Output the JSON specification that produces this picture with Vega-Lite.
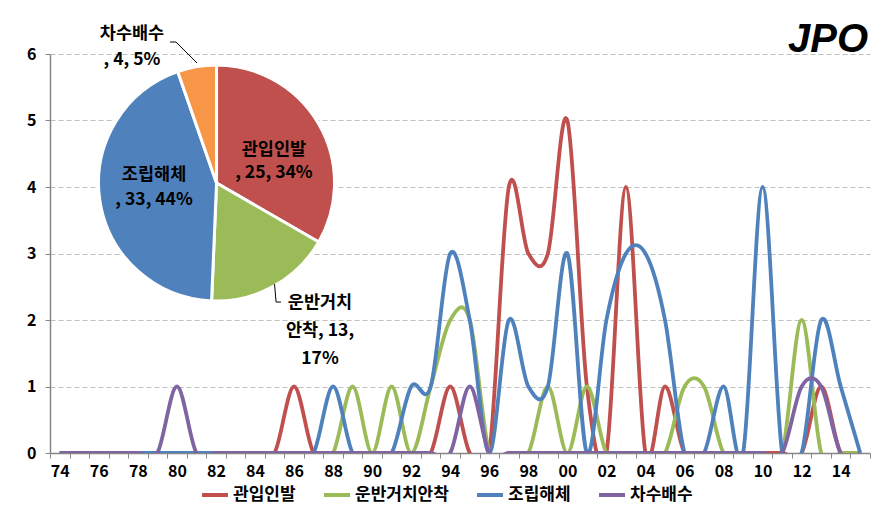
{
  "$schema": "https://vega.github.io/schema/vega-lite/v6.json",
  "width": 820,
  "height": 399,
  "autosize": {"type": "none"},
  "padding": {"left": 50, "top": 54, "right": 16, "bottom": 71},
  "background": "white",
  "config": {"view": {"stroke": null}, "font": "Noto Sans CJK KR"},
  "datasets": {
    "lines": [
      {"year":1974,"type":"관입인발","count":0},{"year":1975,"type":"관입인발","count":0},{"year":1976,"type":"관입인발","count":0},{"year":1977,"type":"관입인발","count":0},{"year":1978,"type":"관입인발","count":0},{"year":1979,"type":"관입인발","count":0},{"year":1980,"type":"관입인발","count":0},{"year":1981,"type":"관입인발","count":0},{"year":1982,"type":"관입인발","count":0},{"year":1983,"type":"관입인발","count":0},{"year":1984,"type":"관입인발","count":0},{"year":1985,"type":"관입인발","count":0},{"year":1986,"type":"관입인발","count":1},{"year":1987,"type":"관입인발","count":0},{"year":1988,"type":"관입인발","count":0},{"year":1989,"type":"관입인발","count":0},{"year":1990,"type":"관입인발","count":0},{"year":1991,"type":"관입인발","count":0},{"year":1992,"type":"관입인발","count":0},{"year":1993,"type":"관입인발","count":0},{"year":1994,"type":"관입인발","count":1},{"year":1995,"type":"관입인발","count":0},{"year":1996,"type":"관입인발","count":0},{"year":1997,"type":"관입인발","count":4},{"year":1998,"type":"관입인발","count":3},{"year":1999,"type":"관입인발","count":3},{"year":2000,"type":"관입인발","count":5},{"year":2001,"type":"관입인발","count":1},{"year":2002,"type":"관입인발","count":0},{"year":2003,"type":"관입인발","count":4},{"year":2004,"type":"관입인발","count":0},{"year":2005,"type":"관입인발","count":1},{"year":2006,"type":"관입인발","count":0},{"year":2007,"type":"관입인발","count":0},{"year":2008,"type":"관입인발","count":0},{"year":2009,"type":"관입인발","count":0},{"year":2010,"type":"관입인발","count":0},{"year":2011,"type":"관입인발","count":0},{"year":2012,"type":"관입인발","count":0},{"year":2013,"type":"관입인발","count":1},{"year":2014,"type":"관입인발","count":0},{"year":2015,"type":"관입인발","count":0},
      {"year":1974,"type":"운반거치안착","count":0},{"year":1975,"type":"운반거치안착","count":0},{"year":1976,"type":"운반거치안착","count":0},{"year":1977,"type":"운반거치안착","count":0},{"year":1978,"type":"운반거치안착","count":0},{"year":1979,"type":"운반거치안착","count":0},{"year":1980,"type":"운반거치안착","count":0},{"year":1981,"type":"운반거치안착","count":0},{"year":1982,"type":"운반거치안착","count":0},{"year":1983,"type":"운반거치안착","count":0},{"year":1984,"type":"운반거치안착","count":0},{"year":1985,"type":"운반거치안착","count":0},{"year":1986,"type":"운반거치안착","count":0},{"year":1987,"type":"운반거치안착","count":0},{"year":1988,"type":"운반거치안착","count":0},{"year":1989,"type":"운반거치안착","count":1},{"year":1990,"type":"운반거치안착","count":0},{"year":1991,"type":"운반거치안착","count":1},{"year":1992,"type":"운반거치안착","count":0},{"year":1993,"type":"운반거치안착","count":1},{"year":1994,"type":"운반거치안착","count":2},{"year":1995,"type":"운반거치안착","count":2},{"year":1996,"type":"운반거치안착","count":0},{"year":1997,"type":"운반거치안착","count":0},{"year":1998,"type":"운반거치안착","count":0},{"year":1999,"type":"운반거치안착","count":1},{"year":2000,"type":"운반거치안착","count":0},{"year":2001,"type":"운반거치안착","count":1},{"year":2002,"type":"운반거치안착","count":0},{"year":2003,"type":"운반거치안착","count":0},{"year":2004,"type":"운반거치안착","count":0},{"year":2005,"type":"운반거치안착","count":0},{"year":2006,"type":"운반거치안착","count":1},{"year":2007,"type":"운반거치안착","count":1},{"year":2008,"type":"운반거치안착","count":0},{"year":2009,"type":"운반거치안착","count":0},{"year":2010,"type":"운반거치안착","count":0},{"year":2011,"type":"운반거치안착","count":0},{"year":2012,"type":"운반거치안착","count":2},{"year":2013,"type":"운반거치안착","count":0},{"year":2014,"type":"운반거치안착","count":0},{"year":2015,"type":"운반거치안착","count":0},
      {"year":1974,"type":"조립해체","count":0},{"year":1975,"type":"조립해체","count":0},{"year":1976,"type":"조립해체","count":0},{"year":1977,"type":"조립해체","count":0},{"year":1978,"type":"조립해체","count":0},{"year":1979,"type":"조립해체","count":0},{"year":1980,"type":"조립해체","count":0},{"year":1981,"type":"조립해체","count":0},{"year":1982,"type":"조립해체","count":0},{"year":1983,"type":"조립해체","count":0},{"year":1984,"type":"조립해체","count":0},{"year":1985,"type":"조립해체","count":0},{"year":1986,"type":"조립해체","count":0},{"year":1987,"type":"조립해체","count":0},{"year":1988,"type":"조립해체","count":1},{"year":1989,"type":"조립해체","count":0},{"year":1990,"type":"조립해체","count":0},{"year":1991,"type":"조립해체","count":0},{"year":1992,"type":"조립해체","count":1},{"year":1993,"type":"조립해체","count":1},{"year":1994,"type":"조립해체","count":3},{"year":1995,"type":"조립해체","count":2},{"year":1996,"type":"조립해체","count":0},{"year":1997,"type":"조립해체","count":2},{"year":1998,"type":"조립해체","count":1},{"year":1999,"type":"조립해체","count":1},{"year":2000,"type":"조립해체","count":3},{"year":2001,"type":"조립해체","count":0},{"year":2002,"type":"조립해체","count":2},{"year":2003,"type":"조립해체","count":3},{"year":2004,"type":"조립해체","count":3},{"year":2005,"type":"조립해체","count":2},{"year":2006,"type":"조립해체","count":0},{"year":2007,"type":"조립해체","count":0},{"year":2008,"type":"조립해체","count":1},{"year":2009,"type":"조립해체","count":0},{"year":2010,"type":"조립해체","count":4},{"year":2011,"type":"조립해체","count":0},{"year":2012,"type":"조립해체","count":0},{"year":2013,"type":"조립해체","count":2},{"year":2014,"type":"조립해체","count":1},{"year":2015,"type":"조립해체","count":0},
      {"year":1974,"type":"차수배수","count":0},{"year":1975,"type":"차수배수","count":0},{"year":1976,"type":"차수배수","count":0},{"year":1977,"type":"차수배수","count":0},{"year":1978,"type":"차수배수","count":0},{"year":1979,"type":"차수배수","count":0},{"year":1980,"type":"차수배수","count":1},{"year":1981,"type":"차수배수","count":0},{"year":1982,"type":"차수배수","count":0},{"year":1983,"type":"차수배수","count":0},{"year":1984,"type":"차수배수","count":0},{"year":1985,"type":"차수배수","count":0},{"year":1986,"type":"차수배수","count":0},{"year":1987,"type":"차수배수","count":0},{"year":1988,"type":"차수배수","count":0},{"year":1989,"type":"차수배수","count":0},{"year":1990,"type":"차수배수","count":0},{"year":1991,"type":"차수배수","count":0},{"year":1992,"type":"차수배수","count":0},{"year":1993,"type":"차수배수","count":0},{"year":1994,"type":"차수배수","count":0},{"year":1995,"type":"차수배수","count":1},{"year":1996,"type":"차수배수","count":0},{"year":1997,"type":"차수배수","count":0},{"year":1998,"type":"차수배수","count":0},{"year":1999,"type":"차수배수","count":0},{"year":2000,"type":"차수배수","count":0},{"year":2001,"type":"차수배수","count":0},{"year":2002,"type":"차수배수","count":0},{"year":2003,"type":"차수배수","count":0},{"year":2004,"type":"차수배수","count":0},{"year":2005,"type":"차수배수","count":0},{"year":2006,"type":"차수배수","count":0},{"year":2007,"type":"차수배수","count":0},{"year":2008,"type":"차수배수","count":0},{"year":2009,"type":"차수배수","count":0},{"year":2010,"type":"차수배수","count":0},{"year":2011,"type":"차수배수","count":0},{"year":2012,"type":"차수배수","count":1},{"year":2013,"type":"차수배수","count":1},{"year":2014,"type":"차수배수","count":0},{"year":2015,"type":"차수배수","count":0}
    ],
    "pie": [
      {"type": "관입인발", "count": 25, "label": "관입인발\n, 25, 34%"},
      {"type": "운반거치안착", "count": 13, "label": "운반거치\n안착, 13,\n17%"},
      {"type": "조립해체", "count": 33, "label": "조립해체\n, 33, 44%"},
      {"type": "차수배수", "count": 4, "label": "차수배수\n, 4, 5%"}
    ],
    "title": [{"label": "JPO"}]
  },
  "resolve": {"axis": {"x": "independent"}},
  "layer": [
    {
      "data": {"name": "lines"},
      "mark": {"type": "line", "interpolate": "cardinal", "tension": 0, "strokeWidth": 3.8, "clip": true},
      "encoding": {
        "x": {
          "field": "year", "type": "quantitative",
          "scale": {"domain": [1973.5, 2015.5], "nice": false, "zero": false},
          "axis": {"orient": "bottom", "values": [1974,1976,1978,1980,1982,1984,1986,1988,1990,1992,1994,1996,1998,2000,2002,2004,2006,2008,2010,2012,2014], "format": "d", "labelExpr": "slice(datum.label, 2)", "ticks": false, "grid": false, "domain": true, "domainColor": "#868686", "domainWidth": 1.5, "labelFont": "Noto Sans CJK KR", "labelFontSize": 16, "labelFontWeight": "bold", "labelColor": "black", "labelPadding": 10, "title": null}
        },
        "y": {
          "field": "count", "type": "quantitative",
          "scale": {"domain": [0, 6], "nice": false},
          "axis": {"values": [0,1,2,3,4,5,6], "format": "d", "grid": true, "gridDash": [5, 3], "gridColor": "#BFBFBF", "gridWidth": 1, "domainColor": "#868686", "domainWidth": 1.5, "tickColor": "#868686", "tickSize": 5, "labelPadding": 9, "labelFont": "Noto Sans CJK KR", "labelFontSize": 16, "labelFontWeight": "bold", "labelColor": "black", "title": null}
        },
        "color": {
          "field": "type", "type": "nominal",
          "scale": {"domain": ["관입인발", "운반거치안착", "조립해체", "차수배수"], "range": ["#C0504D", "#9BBB59", "#4F81BD", "#8064A2"]},
          "legend": {"orient": "none", "legendX": 150, "legendY": 426, "direction": "horizontal", "title": null, "symbolType": "stroke", "symbolSize": 676, "symbolStrokeWidth": 4, "labelFont": "Noto Sans CJK KR", "labelFontSize": 17, "labelFontWeight": "bold", "labelColor": "black", "columnPadding": 20, "labelOffset": 3}
        }
      }
    },
    {
      "data": {"name": "pie"},
      "transform": [{"stack": "count", "groupby": [], "as": ["t0", "t1"], "sort": [{"field": "type", "order": "ascending"}]}],
      "mark": {"type": "arc", "outerRadius": 118, "stroke": "white", "strokeWidth": 3},
      "encoding": {
        "x": {"datum": 1982.03, "type": "quantitative", "stack": null, "axis": {"orient": "bottom", "values": [1973.5,1974.5,1975.5,1976.5,1977.5,1978.5,1979.5,1980.5,1981.5,1982.5,1983.5,1984.5,1985.5,1986.5,1987.5,1988.5,1989.5,1990.5,1991.5,1992.5,1993.5,1994.5,1995.5,1996.5,1997.5,1998.5,1999.5,2000.5,2001.5,2002.5,2003.5,2004.5,2005.5,2006.5,2007.5,2008.5,2009.5,2010.5,2011.5,2012.5,2013.5,2014.5,2015.5], "labels": false, "ticks": true, "tickSize": 5, "tickColor": "#868686", "domain": false, "grid": false, "title": null}},
        "y": {"datum": 4.06, "type": "quantitative", "stack": null},
        "theta": {"field": "t0", "type": "quantitative", "scale": {"domain": [0, 75]}, "stack": null},
        "theta2": {"field": "t1"},
        "fill": {"field": "type", "type": "nominal", "scale": {"domain": ["관입인발", "운반거치안착", "조립해체", "차수배수"], "range": ["#C0504D", "#9BBB59", "#4F81BD", "#F79646"]}, "legend": null}
      }
    },
    {
      "data": {"name": "pie"},
      "transform": [{"filter": {"field": "type", "equal": "관입인발"}}],
      "mark": {"type": "text", "font": "Noto Sans CJK KR", "fontWeight": "bold", "fontSize": 17.5, "lineBreak": "\n", "lineHeight": 23, "align": "center", "baseline": "middle", "color": "black"},
      "encoding": {
        "x": {"datum": 1984.97, "type": "quantitative", "axis": null},
        "y": {"datum": 4.556, "type": "quantitative"},
        "text": {"field": "label"}
      }
    },
    {
      "data": {"name": "pie"},
      "transform": [{"filter": {"field": "type", "equal": "조립해체"}}],
      "mark": {"type": "text", "font": "Noto Sans CJK KR", "fontWeight": "bold", "fontSize": 17.5, "lineBreak": "\n", "lineHeight": 25, "align": "center", "baseline": "middle", "color": "black"},
      "encoding": {
        "x": {"datum": 1978.83, "type": "quantitative", "axis": null},
        "y": {"datum": 4.18, "type": "quantitative"},
        "text": {"field": "label"}
      }
    },
    {
      "data": {"name": "pie"},
      "transform": [{"filter": {"field": "type", "equal": "운반거치안착"}}],
      "mark": {"type": "text", "font": "Noto Sans CJK KR", "fontWeight": "bold", "fontSize": 17.5, "lineBreak": "\n", "lineHeight": 28, "align": "center", "baseline": "middle", "color": "black"},
      "encoding": {
        "x": {"datum": 1987.33, "type": "quantitative", "axis": null},
        "y": {"datum": 2.256, "type": "quantitative"},
        "text": {"field": "label"}
      }
    },
    {
      "data": {"name": "pie"},
      "transform": [{"filter": {"field": "type", "equal": "차수배수"}}],
      "mark": {"type": "text", "font": "Noto Sans CJK KR", "fontWeight": "bold", "fontSize": 17.5, "lineBreak": "\n", "lineHeight": 26, "align": "center", "baseline": "middle", "color": "black"},
      "encoding": {
        "x": {"datum": 1977.7, "type": "quantitative", "axis": null},
        "y": {"datum": 6.3, "type": "quantitative"},
        "text": {"field": "label"}
      }
    },
    {
      "data": {"name": "title"},
      "mark": {"type": "text", "font": "Liberation Sans", "fontWeight": "bold", "fontStyle": "italic", "fontSize": 40, "align": "right", "baseline": "alphabetic", "color": "black"},
      "encoding": {
        "x": {"datum": 2015.4, "type": "quantitative", "axis": null},
        "y": {"datum": 6.03, "type": "quantitative"},
        "text": {"field": "label"}
      }
    },
    {
      "data": {"name": "pie"},
      "transform": [{"filter": {"field": "type", "equal": "차수배수"}}],
      "mark": {"type": "rule", "color": "black", "strokeWidth": 1},
      "encoding": {
        "x": {"datum": 1979.65, "type": "quantitative", "axis": null},
        "y": {"datum": 6.18, "type": "quantitative"},
        "x2": {"datum": 1979.95},
        "y2": {"datum": 6.18}
      }
    },
    {
      "data": {"name": "pie"},
      "transform": [{"filter": {"field": "type", "equal": "차수배수"}}],
      "mark": {"type": "rule", "color": "black", "strokeWidth": 1},
      "encoding": {
        "x": {"datum": 1979.95, "type": "quantitative", "axis": null},
        "y": {"datum": 6.18, "type": "quantitative"},
        "x2": {"datum": 1981.03},
        "y2": {"datum": 5.865}
      }
    },
    {
      "data": {"name": "pie"},
      "transform": [{"filter": {"field": "type", "equal": "운반거치안착"}}],
      "mark": {"type": "rule", "color": "black", "strokeWidth": 1},
      "encoding": {
        "x": {"datum": 1985.0, "type": "quantitative", "axis": null},
        "y": {"datum": 2.54, "type": "quantitative"},
        "x2": {"datum": 1985.08},
        "y2": {"datum": 2.27}
      }
    },
    {
      "data": {"name": "pie"},
      "transform": [{"filter": {"field": "type", "equal": "운반거치안착"}}],
      "mark": {"type": "rule", "color": "black", "strokeWidth": 1},
      "encoding": {
        "x": {"datum": 1985.08, "type": "quantitative", "axis": null},
        "y": {"datum": 2.27, "type": "quantitative"},
        "x2": {"datum": 1985.33},
        "y2": {"datum": 2.27}
      }
    }
  ]
}
